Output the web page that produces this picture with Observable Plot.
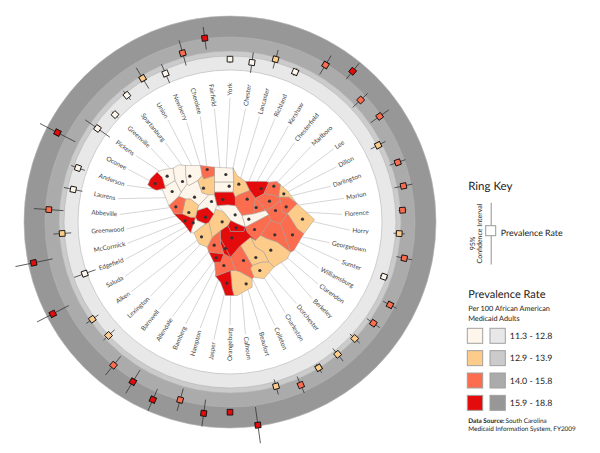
<!DOCTYPE html>
<html>
<head>
<meta charset="utf-8">
<script src="https://cdn.jsdelivr.net/npm/d3@7"></script>
<script src="https://cdn.jsdelivr.net/npm/@observablehq/plot@0.6"></script>
<style>html,body{margin:0;padding:0;background:#fff}svg{display:block}svg text{text-rendering:geometricPrecision}</style>
</head>
<body>
<div id="chart"></div>
<script>
const counties = ["York","Chester","Lancaster","Richland","Kershaw","Chesterfield","Marlboro","Lee","Dillon","Darlington","Marion","Florence","Horry","Georgetown","Sumter","Williamsburg","Clarendon","Berkeley","Dorchester","Charleston","Colleton","Beaufort","Calhoun","Orangeburg","Jasper","Hampton","Bamberg","Allendale","Barnwell","Lexington","Aiken","Saluda","Edgefield","McCormick","Greenwood","Abbeville","Laurens","Anderson","Oconee","Pickens","Greenville","Spartanburg","Union","Newberry","Cherokee","Fairfield"];
const rate = [12.5,12.3,13.51,12.58,15.69,17.16,15.0,15.6,13.05,14.9,14.79,14.21,13.64,14.9,12.56,15.2,14.56,13.88,13.85,13.85,14.86,13.85,18.66,16.58,16.99,15.82,17.07,16.12,15.8,12.9,13.42,17.9,11.54,18.03,13.33,15.39,12.2,12.34,17.16,12.43,11.89,12.56,13.33,12.4,14.55,15.93];
const ciLow = [12.07,11.13,12.12,12.14,14.18,15.73,13.27,14.11,12.02,13.62,13.27,13.49,12.62,13.7,12.12,14.17,13.2,12.62,12.52,12.94,13.4,12.57,16.1,16.13,15.08,14.22,15.45,14.25,14.25,11.94,12.3,15.38,10.27,15.34,12.09,13.05,11.17,11.53,14.38,10.75,11.39,11.91,11.76,11.24,12.47,14.38];
const ciHigh = [12.85,13.97,15.0,13.2,17.23,18.62,16.33,17.17,14.51,16.02,16.0,14.75,14.52,15.96,13.2,16.2,15.63,14.82,15.09,14.7,16.05,15.05,21.23,16.97,18.87,17.42,18.77,18.04,17.58,14.23,14.63,20.39,12.78,20.64,14.75,17.48,13.66,13.42,19.92,14.79,12.38,13.53,15.24,14.11,16.37,17.51];

// County seats on the map (map units), same order as counties
const seats = [[256,57],[266,92],[295,86],[284,178],[320,131],[362,99],[400,92],[347,156],[430,115],[387,137],[437,154],[405,165],[486,191],[456,238],[325,191],[403,238],[342,222],[391,284],[346,306],[358,345],[309,315],[317,385],[287,217],[274,247],[259,383],[250,330],[255,279],[227,307],[221,269],[245,199],[183,244],[195,185],[158,202],[134,196],[145,171],[106,154],[162,125],[95,108],[44,84],[80,62],[126,78],[148,62],[189,98],[213,138],[200,42],[247,132]];

// County outlines (map units), same order as counties
const outlines = [
 [[222,35],[278,38],[280,80],[222,80],[222,60]],
 [[222,80],[280,80],[278,110],[222,110]],
 [[278,38],[290,60],[315,78],[328,105],[295,118],[284,125],[278,110],[280,80]],
 [[230,150],[262,148],[285,150],[305,180],[315,215],[290,205],[270,195],[250,170]],
 [[284,125],[295,118],[328,105],[345,128],[342,150],[340,175],[305,180],[285,150]],
 [[315,78],[375,78],[385,80],[370,115],[345,128],[328,105]],
 [[385,80],[408,78],[420,88],[415,125],[395,118],[370,115]],
 [[342,150],[345,128],[365,150],[375,165],[340,175]],
 [[420,88],[408,78],[440,105],[470,145],[445,125],[415,125]],
 [[345,128],[370,115],[395,118],[415,125],[420,135],[395,155],[375,165],[365,150]],
 [[415,125],[445,125],[470,145],[440,175],[425,170],[420,135]],
 [[395,155],[420,135],[425,170],[440,175],[420,205],[390,195],[385,178],[375,165]],
 [[470,145],[522,192],[490,235],[470,220],[445,180],[440,175]],
 [[420,205],[440,175],[445,180],[470,220],[490,235],[460,285],[450,290],[435,245]],
 [[305,180],[340,175],[375,165],[385,178],[315,215]],
 [[390,195],[420,205],[435,245],[450,290],[410,260],[380,250],[360,240]],
 [[315,215],[385,178],[390,195],[360,240],[345,255],[330,245],[320,230]],
 [[330,245],[345,255],[360,240],[380,250],[410,260],[450,290],[440,310],[400,335],[385,320],[370,290],[345,275]],
 [[300,270],[330,245],[345,275],[370,290],[385,320],[365,320],[335,330]],
 [[335,330],[365,320],[385,320],[400,335],[370,370],[340,365],[330,340]],
 [[270,305],[300,270],[335,330],[330,340],[340,365],[335,370],[300,350],[285,345]],
 [[270,345],[285,345],[300,350],[335,370],[335,395],[290,420],[280,420],[275,400]],
 [[270,195],[290,205],[315,215],[310,228],[270,228],[262,210]],
 [[240,225],[262,210],[270,228],[310,228],[315,215],[320,230],[345,255],[330,245],[300,270],[270,305],[240,250]],
 [[225,362],[270,345],[275,400],[280,420],[255,420],[240,380]],
 [[222,320],[240,320],[250,295],[270,305],[285,345],[270,345],[225,362],[225,350]],
 [[240,250],[270,305],[250,295],[240,265]],
 [[205,290],[250,295],[240,320],[222,320],[220,320]],
 [[215,245],[240,225],[240,265],[250,295],[205,290],[200,275]],
 [[220,175],[225,160],[250,170],[270,195],[262,210],[240,225],[215,245],[205,200]],
 [[195,205],[205,200],[215,245],[200,275],[175,265],[160,232],[175,220]],
 [[170,165],[200,155],[220,175],[205,200],[195,205],[170,195],[165,185]],
 [[165,185],[170,195],[195,205],[175,220],[160,232],[150,232]],
 [[100,175],[125,175],[150,185],[165,185],[150,232],[130,205]],
 [[135,130],[150,130],[175,150],[170,165],[165,185],[150,185],[125,175]],
 [[85,150],[115,122],[135,130],[125,175],[100,175]],
 [[122,110],[140,85],[145,90],[172,75],[185,112],[205,118],[175,150],[150,130],[135,130],[115,122]],
 [[74,98],[78,90],[104,75],[122,110],[115,122],[85,150],[65,100]],
 [[22,88],[30,70],[50,50],[66,66],[72,88],[74,98],[65,100],[48,104],[35,98]],
 [[50,50],[70,42],[98,38],[104,75],[78,90],[72,88],[66,66]],
 [[98,38],[115,28],[135,30],[136,60],[140,85],[122,110],[104,75]],
 [[135,30],[180,30],[185,60],[172,75],[145,90],[140,85],[136,60]],
 [[172,75],[185,60],[190,70],[222,60],[222,110],[222,118],[205,118],[185,112]],
 [[175,150],[205,118],[222,118],[230,150],[225,160],[220,175],[200,155],[170,165]],
 [[180,30],[222,35],[222,60],[190,70],[185,60]],
 [[222,110],[278,110],[284,125],[285,150],[262,148],[230,150],[222,118]]
];

const bandLabels = ["11.3 - 12.8","12.9 - 13.9","14.0 - 15.8","15.9 - 18.8"];
const bandFills = ["#fef6ea","#fdcc8a","#fc6d4f","#e30b0b"];
const ringFills = ["#e8e8e8","#cbcbcb","#ababab","#979797"];
const bandBreaks = [12.85,13.95,15.85];

// Radial position of a rate
const rateDomain = [11.3,12.85,13.95,15.85,18.8];
const radiusRange = [152,166,171,185,206];
const radial = d3.scaleLinear(rateDomain, radiusRange);
const cx = 229.5, cy = 221.5;
const step = 360 / counties.length;
const pos = (r, i) => {
  const a = i * step * Math.PI / 180;
  return [cx + r * Math.sin(a), cy - r * Math.cos(a)];
};
const mapX = u => 140 + u / 3, mapY = u => 155 + u / 3;

const fontFamily = "Lato";
const labelFont = 6.4;
const ctx = document.createElement("canvas").getContext("2d");
ctx.font = `${labelFont}px ${fontFamily}`;
const labelOuter = 139;

const rows = counties.map((name, i) => {
  const theta = i * step;
  const right = theta < 180;
  const width = ctx.measureText(name).width;
  const [mx, my] = pos(radial(rate[i]), i);
  const [lx1, ly1] = pos(radial(ciLow[i]), i);
  const [lx2, ly2] = pos(radial(ciHigh[i]), i);
  const [tx, ty] = pos(labelOuter, i);
  const [ex, ey] = pos(labelOuter - width - 2.5, i);
  return {name, i, theta, right, rate: rate[i], mx, my, lx1, ly1, lx2, ly2, tx, ty, ex, ey,
    rot: right ? theta - 90 : theta + 90,
    sx: mapX(seats[i][0]), sy: mapY(seats[i][1])};
});
const mapRows = outlines.flatMap((poly, i) =>
  [...poly, poly[0]].map(p => ({name: counties[i], rate: rate[i], x: mapX(p[0]), y: mapY(p[1])})));

const rings = [
  {r: 206, fill: ringFills[3]}, {r: 185, fill: ringFills[2]},
  {r: 171, fill: ringFills[1]}, {r: 166, fill: ringFills[0]}, {r: 152, fill: "#ffffff"}
];

const note = (text, x, y, o = {}) => Plot.text([text], {x: [x], y: [y], text: d => d, textAnchor: "start",
  fontFamily, fill: "#222", ...o});

const swatchRows = [0, 1, 2, 3].map(k => ({k, y1: 328.3 + k * 22.35, y2: 343.3 + k * 22.35}));

const chart = Plot.plot({
  width: 600, height: 453, margin: 0,
  x: {domain: [0, 600], range: [0, 600], axis: null},
  y: {domain: [0, 453], range: [0, 453], axis: null},
  r: {type: "identity"},
  color: {type: "threshold", domain: bandBreaks, range: bandFills},
  style: {background: "#fff", fontFamily},
  marks: [
    ...rings.map(b => Plot.dot([b], {x: [cx], y: [cy], r: d => d.r, fill: b.fill, stroke: "#b4b4b4", strokeWidth: 0.6})),
    Plot.link(rows, {x1: "sx", y1: "sy", x2: "ex", y2: "ey", stroke: "#c4c4c4", strokeWidth: 0.7}),
    Plot.line(mapRows, {x: "x", y: "y", z: "name", fill: "rate", stroke: "#a09a94", strokeWidth: 0.5, curve: "linear"}),
    Plot.dot(rows, {x: "sx", y: "sy", r: () => 1.6, fill: "#333"}),
    Plot.text(rows.filter(d => d.right), {x: "tx", y: "ty", text: "name", rotate: "rot", textAnchor: "end", fontSize: labelFont, fill: "#444"}),
    Plot.text(rows.filter(d => !d.right), {x: "tx", y: "ty", text: "name", rotate: "rot", textAnchor: "start", fontSize: labelFont, fill: "#444"}),
    Plot.link(rows, {x1: "lx1", y1: "ly1", x2: "lx2", y2: "ly2", stroke: "#333", strokeWidth: 0.8}),
    Plot.dot(rows, {x: "mx", y: "my", r: () => 3.2, symbol: "square", rotate: "theta", fill: "rate", stroke: "#111", strokeWidth: 0.9}),

    // Ring key
    note("Ring Key", 467.7, 186, {fontSize: 11.5}),
    Plot.link([0], {x1: [490.7], x2: [490.7], y1: [202.3], y2: [264], stroke: "#777", strokeWidth: 0.8}),
    Plot.rect([0], {x1: [485.7], x2: [495.7], y1: [225.7], y2: [235.7], fill: "#fff", stroke: "#999", strokeWidth: 1}),
    note("Prevalence Rate", 500.3, 232.5, {fontSize: 8.8}),
    note("95%", 472, 243, {fontSize: 7, rotate: -90, textAnchor: "middle"}),
    note("Confidence Interval", 479, 233, {fontSize: 7, rotate: -90, textAnchor: "middle"}),

    // Prevalence legend
    note("Prevalence Rate", 467.7, 294, {fontSize: 11}),
    note("Per 100 African American", 467.7, 308, {fontSize: 7.3}),
    note("Medicaid Adults", 467.7, 318, {fontSize: 7.3}),
    ...swatchRows.flatMap(s => [
      Plot.rect([s], {x1: [467.3], x2: [482.7], y1: d => d.y1, y2: d => d.y2, fill: bandFills[s.k], stroke: "#a0a0a0", strokeWidth: 1}),
      Plot.rect([s], {x1: [490], x2: [505.3], y1: d => d.y1, y2: d => d.y2, fill: ringFills[s.k], stroke: "#a0a0a0", strokeWidth: 1}),
      note(bandLabels[s.k], 509.3, s.y1 + 7.5, {fontSize: 8.8})
    ]),
    note("Data Source:", 467.7, 420, {fontSize: 6.4, fontWeight: "bold"}),
    note("South Carolina", 505, 420, {fontSize: 6.4}),
    note("Medicaid Information System, FY2009", 467.7, 428.5, {fontSize: 6.4})
  ]
});
document.getElementById("chart").appendChild(chart);
</script>
</body>
</html>
